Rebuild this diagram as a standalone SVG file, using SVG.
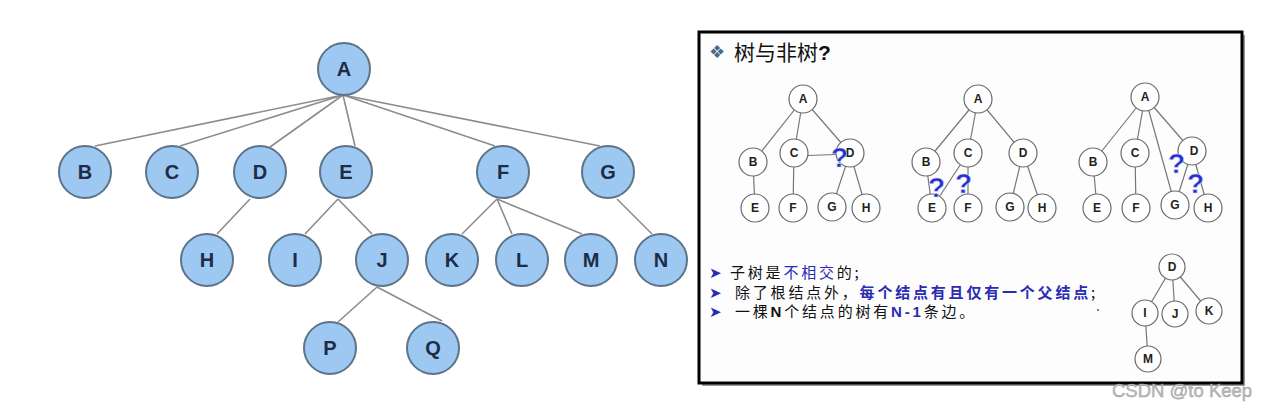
<svg xmlns="http://www.w3.org/2000/svg" width="1267" height="411" viewBox="0 0 1267 411">
<style>
.bn circle{fill:#9dc8f1;stroke:#5d7389;stroke-width:2}
.bn text{font-family:"Liberation Sans",Arial,sans-serif;font-weight:bold;font-size:20px;fill:#1e2c48;text-anchor:middle}
.e1{stroke:#8c8c8c;stroke-width:1.6;fill:none}
.sn circle{fill:#fff;stroke:#6a6a6a;stroke-width:1.2}
.sn text{font-family:"Liberation Sans",Arial,sans-serif;font-weight:bold;font-size:12px;fill:#222;text-anchor:middle}
.e2{stroke:#777;stroke-width:1.2;fill:none}
.q{font-family:"Liberation Sans",Arial,sans-serif;font-weight:bold;font-size:28px;fill:#2530c8;stroke:#c8d0ff;stroke-width:0.6}
.t{font-family:"Noto Sans CJK SC","Liberation Sans",sans-serif;font-size:15px;fill:#111;letter-spacing:2.8px}
.ar{font-family:"DejaVu Sans",sans-serif;font-size:15px;fill:#2a2ab4}
.blue{fill:#2a2ab4}
.b{font-weight:bold}
</style>
<rect width="1267" height="411" fill="#fff"/>

<!-- Left tree connectors -->
<g id="connectors-left">
<line class="e1" x1="343" y1="95" x2="95" y2="146" stroke="#707070"/>
<line class="e1" x1="343" y1="95" x2="180" y2="146"/>
<line class="e1" x1="343" y1="95" x2="270" y2="147"/>
<line class="e1" x1="343" y1="95" x2="355" y2="146"/>
<line class="e1" x1="343" y1="95" x2="495" y2="146"/>
<line class="e1" x1="343" y1="95" x2="600" y2="146"/>
<line class="e1" x1="250" y1="199" x2="217" y2="234"/>
<line class="e1" x1="338" y1="199" x2="305" y2="234"/>
<line class="e1" x1="338" y1="199" x2="372" y2="234"/>
<line class="e1" x1="497" y1="199" x2="462" y2="234"/>
<line class="e1" x1="497" y1="199" x2="512" y2="234"/>
<line class="e1" x1="497" y1="199" x2="582" y2="234"/>
<line class="e1" x1="617" y1="199" x2="652" y2="234"/>
<line class="e1" x1="377" y1="287" x2="338" y2="322"/>
<line class="e1" x1="377" y1="287" x2="442" y2="321"/>
</g>

<g id="nA" class="bn"><circle cx="344" cy="69" r="26"/><text x="344" y="76">A</text></g>
<g id="nB" class="bn"><circle cx="85" cy="172" r="26"/><text x="85" y="179">B</text></g>
<g id="nC" class="bn"><circle cx="172" cy="172" r="26"/><text x="172" y="179">C</text></g>
<g id="nD" class="bn"><circle cx="260" cy="172" r="26"/><text x="260" y="179">D</text></g>
<g id="nE" class="bn"><circle cx="346" cy="172" r="26"/><text x="346" y="179">E</text></g>
<g id="nF" class="bn"><circle cx="503" cy="172" r="26"/><text x="503" y="179">F</text></g>
<g id="nG" class="bn"><circle cx="608" cy="172" r="26"/><text x="608" y="179">G</text></g>
<g id="nH" class="bn"><circle cx="207" cy="260" r="26"/><text x="207" y="267">H</text></g>
<g id="nI" class="bn"><circle cx="295" cy="260" r="26"/><text x="295" y="267">I</text></g>
<g id="nJ" class="bn"><circle cx="382" cy="260" r="26"/><text x="382" y="267">J</text></g>
<g id="nK" class="bn"><circle cx="452" cy="260" r="26"/><text x="452" y="267">K</text></g>
<g id="nL" class="bn"><circle cx="522" cy="260" r="26"/><text x="522" y="267">L</text></g>
<g id="nM" class="bn"><circle cx="591" cy="260" r="26"/><text x="591" y="267">M</text></g>
<g id="nN" class="bn"><circle cx="661" cy="260" r="26"/><text x="661" y="267">N</text></g>
<g id="nP" class="bn"><circle cx="330" cy="348" r="26"/><text x="330" y="355">P</text></g>
<g id="nQ" class="bn"><circle cx="433" cy="348" r="26"/><text x="433" y="355">Q</text></g>

<!-- Right panel -->
<g id="panel">
<rect x="702" y="35" width="543" height="351" fill="#555" opacity="0.6"/>
<rect x="699" y="32" width="543" height="351" fill="#fdfdfd" stroke="#000" stroke-width="3"/>
<text x="709" y="58" font-family="DejaVu Sans,sans-serif" font-size="18" fill="#4a6a8a">❖</text>
<text x="734" y="60" font-family="Noto Sans CJK SC,sans-serif" font-size="21" fill="#111">树与非树<tspan font-family="Liberation Sans,sans-serif" font-weight="bold">?</tspan></text>
</g>

<g id="connectors-right">
<!-- tree 1 -->
<line class="e2" x1="803" y1="99" x2="753" y2="162"/>
<line class="e2" x1="803" y1="99" x2="794" y2="153"/>
<line class="e2" x1="803" y1="99" x2="850" y2="153"/>
<line class="e2" x1="753" y1="162" x2="755" y2="208"/>
<line class="e2" x1="794" y1="153" x2="793" y2="208"/>
<line class="e2" x1="794" y1="156" x2="850" y2="154"/>
<line class="e2" x1="850" y1="153" x2="832" y2="207"/>
<line class="e2" x1="850" y1="153" x2="866" y2="208"/>
<!-- tree 2 -->
<line class="e2" x1="978" y1="99" x2="926" y2="162"/>
<line class="e2" x1="978" y1="99" x2="968" y2="153"/>
<line class="e2" x1="978" y1="99" x2="1023" y2="153"/>
<line class="e2" x1="926" y1="162" x2="932" y2="208"/>
<line class="e2" x1="968" y1="153" x2="932" y2="208"/>
<line class="e2" x1="968" y1="153" x2="968" y2="208"/>
<line class="e2" x1="1023" y1="153" x2="1010" y2="207"/>
<line class="e2" x1="1023" y1="153" x2="1042" y2="208"/>
<!-- tree 3 -->
<line class="e2" x1="1145" y1="97" x2="1093" y2="162"/>
<line class="e2" x1="1145" y1="97" x2="1135" y2="153"/>
<line class="e2" x1="1145" y1="97" x2="1175" y2="205"/>
<line class="e2" x1="1145" y1="97" x2="1192" y2="151"/>
<line class="e2" x1="1093" y1="162" x2="1097" y2="208"/>
<line class="e2" x1="1135" y1="153" x2="1136" y2="208"/>
<line class="e2" x1="1192" y1="151" x2="1175" y2="205"/>
<line class="e2" x1="1192" y1="151" x2="1208" y2="208"/>
<!-- tree 4 -->
<line class="e2" x1="1172" y1="267" x2="1145" y2="313"/>
<line class="e2" x1="1172" y1="267" x2="1175" y2="314"/>
<line class="e2" x1="1172" y1="267" x2="1209" y2="311"/>
<line class="e2" x1="1145" y1="313" x2="1148" y2="359"/>
</g>

<!-- tree 1 nodes -->
<g id="t1A" class="sn"><circle cx="803" cy="99" r="14"/><text x="803" y="103">A</text></g>
<g id="t1B" class="sn"><circle cx="753" cy="162" r="14"/><text x="753" y="166">B</text></g>
<g id="t1C" class="sn"><circle cx="794" cy="153" r="14"/><text x="794" y="157">C</text></g>
<g id="t1D" class="sn"><circle cx="850" cy="153" r="14"/><text x="850" y="157">D</text></g>
<g id="t1E" class="sn"><circle cx="755" cy="208" r="14"/><text x="755" y="212">E</text></g>
<g id="t1F" class="sn"><circle cx="793" cy="208" r="14"/><text x="793" y="212">F</text></g>
<g id="t1G" class="sn"><circle cx="832" cy="207" r="14"/><text x="832" y="211">G</text></g>
<g id="t1H" class="sn"><circle cx="866" cy="208" r="14"/><text x="866" y="212">H</text></g>

<!-- tree 2 nodes -->
<g id="t2A" class="sn"><circle cx="978" cy="99" r="14"/><text x="978" y="103">A</text></g>
<g id="t2B" class="sn"><circle cx="926" cy="162" r="14"/><text x="926" y="166">B</text></g>
<g id="t2C" class="sn"><circle cx="968" cy="153" r="14"/><text x="968" y="157">C</text></g>
<g id="t2D" class="sn"><circle cx="1023" cy="153" r="14"/><text x="1023" y="157">D</text></g>
<g id="t2E" class="sn"><circle cx="932" cy="208" r="14"/><text x="932" y="212">E</text></g>
<g id="t2F" class="sn"><circle cx="968" cy="208" r="14"/><text x="968" y="212">F</text></g>
<g id="t2G" class="sn"><circle cx="1010" cy="207" r="14"/><text x="1010" y="211">G</text></g>
<g id="t2H" class="sn"><circle cx="1042" cy="208" r="14"/><text x="1042" y="212">H</text></g>

<!-- tree 3 nodes -->
<g id="t3A" class="sn"><circle cx="1145" cy="97" r="14"/><text x="1145" y="101">A</text></g>
<g id="t3B" class="sn"><circle cx="1093" cy="162" r="14"/><text x="1093" y="166">B</text></g>
<g id="t3C" class="sn"><circle cx="1135" cy="153" r="14"/><text x="1135" y="157">C</text></g>
<g id="t3D" class="sn"><circle cx="1192" cy="151" r="14"/><text x="1194" y="155">D</text></g>
<g id="t3E" class="sn"><circle cx="1097" cy="208" r="14"/><text x="1097" y="212">E</text></g>
<g id="t3F" class="sn"><circle cx="1136" cy="208" r="14"/><text x="1136" y="212">F</text></g>
<g id="t3G" class="sn"><circle cx="1175" cy="205" r="14"/><text x="1175" y="209">G</text></g>
<g id="t3H" class="sn"><circle cx="1208" cy="208" r="14"/><text x="1208" y="212">H</text></g>

<!-- tree 4 nodes -->
<g id="t4D" class="sn"><circle cx="1172" cy="267" r="13"/><text x="1172" y="271">D</text></g>
<g id="t4I" class="sn"><circle cx="1145" cy="313" r="13"/><text x="1145" y="317">I</text></g>
<g id="t4J" class="sn"><circle cx="1175" cy="314" r="13"/><text x="1175" y="318">J</text></g>
<g id="t4K" class="sn"><circle cx="1209" cy="311" r="13"/><text x="1209" y="315">K</text></g>
<g id="t4M" class="sn"><circle cx="1148" cy="359" r="13"/><text x="1148" y="363">M</text></g>

<!-- question marks -->
<g id="qmarks">
<text class="q" x="831" y="167">?</text>
<text class="q" x="928" y="197">?</text>
<text class="q" x="955" y="193">?</text>
<text class="q" x="1168" y="173">?</text>
<text class="q" x="1187" y="193">?</text>
</g>

<!-- bullets -->
<g id="bullets">
<text class="ar" x="709" y="278">➤</text>
<text class="ar" x="709" y="298">➤</text>
<text class="ar" x="709" y="317">➤</text>
<text class="t" x="730" y="278">子树是<tspan class="blue">不相交</tspan>的;</text>
<text class="t" x="735" y="298">除了根结点外，<tspan class="blue b">每个结点有且仅有一个父结点</tspan>;</text>
<text class="t" x="735" y="317">一棵<tspan class="b" font-family="Liberation Sans,sans-serif">N</tspan>个结点的树有<tspan class="blue b" font-family="Liberation Sans,sans-serif">N-1</tspan>条边。</text>
<circle cx="1098" cy="310" r="1" fill="#c03030"/>
</g>

<text id="watermark" x="1112" y="397" font-family="Liberation Sans,Arial,sans-serif" font-size="18.5" fill="#bbbbbb" stroke="#999" stroke-width="0.4">CSDN @to Keep</text>
</svg>
